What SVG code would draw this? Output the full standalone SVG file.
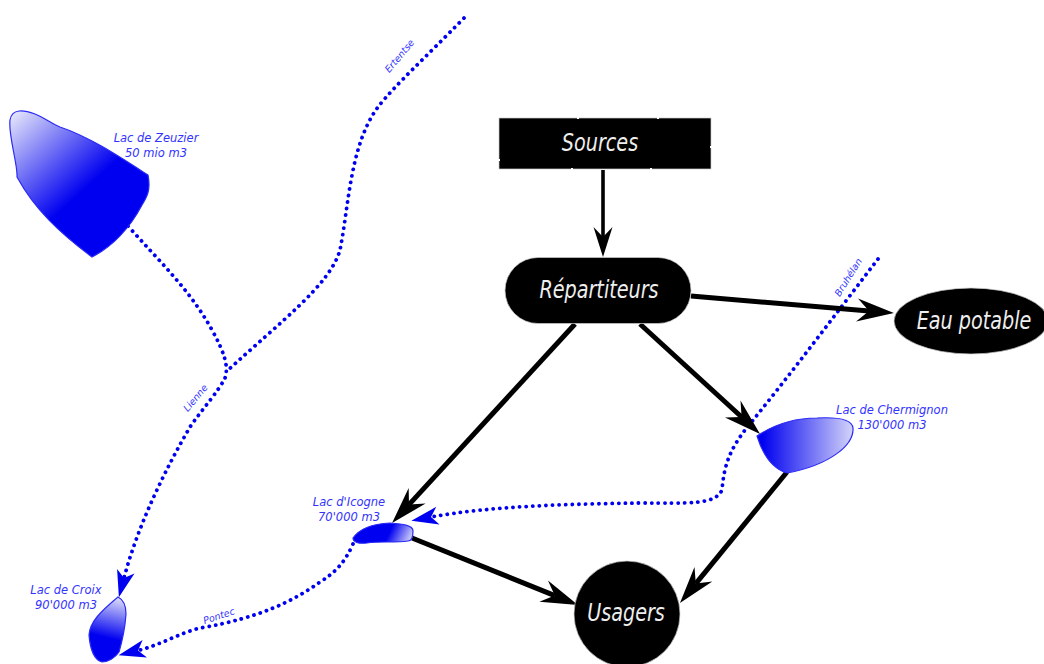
<svg xmlns="http://www.w3.org/2000/svg" width="1044" height="664" viewBox="0 0 1044 664">
<style>
.river{fill:none;stroke:#0000f0;stroke-width:3.8;stroke-linecap:round;stroke-dasharray:0.1 6.5}
.flow{fill:none;stroke:#000;stroke-width:5}
.thin{stroke-width:3.6}
.lake{stroke:#2a2af5;stroke-width:1.2}
.lbl{font-family:"DejaVu Sans",sans-serif;font-style:oblique;font-size:11.5px;fill:#3333ff;text-anchor:middle}
.big{font-family:"DejaVu Sans",sans-serif;font-style:oblique;font-size:24px;fill:#eee;text-anchor:middle}
.shape{fill:#000;stroke:#ccc;stroke-width:.7}
</style>
<defs>
<marker id="ab" markerUnits="userSpaceOnUse" markerWidth="42" markerHeight="26" viewBox="-13 -13 42 26" refX="0" refY="0" orient="auto"><path d="M25,0L-12,-11.500L0,0L-12,11.500z" fill="#000"/></marker>
<marker id="as" markerUnits="userSpaceOnUse" markerWidth="34" markerHeight="22" viewBox="-11 -11 34 22" refX="0" refY="0" orient="auto"><path d="M20,0L-10,-9.500L0,0L-10,9.500z" fill="#000"/></marker>
<marker id="ub" markerUnits="userSpaceOnUse" markerWidth="32" markerHeight="22" viewBox="-9 -11 32 22" refX="0" refY="0" orient="auto"><path d="M20,0L-7,-9L0,0L-7,9z" fill="#0000f0"/></marker>
<linearGradient id="gz" gradientUnits="userSpaceOnUse" x1="12" y1="115" x2="82" y2="192"><stop offset="0" stop-color="#e4e4fb"/><stop offset="1" stop-color="#0000f0"/></linearGradient>
<linearGradient id="gch" gradientUnits="userSpaceOnUse" x1="853" y1="440" x2="762" y2="440"><stop offset="0" stop-color="#d4d4fa"/><stop offset="1" stop-color="#0000f0"/></linearGradient>
<linearGradient id="gi" gradientUnits="userSpaceOnUse" x1="413" y1="537" x2="392" y2="527"><stop offset="0" stop-color="#d8d8fa"/><stop offset="1" stop-color="#0000f0"/></linearGradient>
<linearGradient id="gc" gradientUnits="userSpaceOnUse" x1="118" y1="597" x2="108" y2="638"><stop offset="0" stop-color="#e0e0fb"/><stop offset="1" stop-color="#0000f0"/></linearGradient>
</defs>
<g id="connectors">
<path class="river" d="M128,226C160,262 190,290 212,330C224,352 229,366 225,378C218,392 203,408 190,427C165,470 138,525 124,578" marker-end="url(#ub)"/>
<path class="river" d="M464,18C425,58 395,85 378,107C350,145 349,205 340,250C330,285 280,322 226,372"/>
<path class="river" d="M878,259C835,315 790,375 745,430C730,450 724,465 722,490C715,505 690,503 640,503C570,504 490,506 431,517" marker-end="url(#ub)"/>
<path class="river" d="M353,544C345,562 336,572 320,582C295,600 260,618 200,628C180,633 160,645 138,650.500" marker-end="url(#ub)"/>
<path class="flow thin" d="M603,170V237" marker-end="url(#as)"/>
<path class="flow" d="M691,296L869,311" marker-end="url(#ab)"/>
<path class="flow" d="M640,324L741.600,417" marker-end="url(#ab)"/>
<path class="flow" d="M575,324L409,504.600" marker-end="url(#ab)"/>
<path class="flow" d="M412,538L554.800,595.600" marker-end="url(#ab)"/>
<path class="flow" d="M787,472L695.800,583.600" marker-end="url(#ab)"/>
</g>
<g id="lac-zeuzier">
<path class="lake" fill="url(#gz)" d="M10,120C12,108 24,110 35,114C45,118 52,124 60,127C90,137 120,157 148,175C151,190 147,197 142,205C130,228 112,247 92,257C60,233 35,210 17,177C18,165 8,135 10,120z"/>
<text class="lbl" x="156" y="142">Lac de Zeuzier</text>
<text class="lbl" x="156" y="157">50 mio m3</text>
</g>
<g id="lac-chermignon">
<path class="lake" fill="url(#gch)" d="M757,436C775,424 795,418 817,418C835,417 852,419 853,428C854,445 830,465 787,473C770,468 762,452 757,436z"/>
<text class="lbl" x="892" y="414">Lac de Chermignon</text>
<text class="lbl" x="892" y="429">130'000 m3</text>
</g>
<g id="lac-icogne">
<path class="lake" fill="url(#gi)" d="M353,538C360,528 372,524 390,523C402,524 413,525 413,531C413,537 412,541 408,541C395,543 380,541 367,543C358,544 353,542 353,538z"/>
<text class="lbl" x="349" y="506">Lac d'Icogne</text>
<text class="lbl" x="349" y="521">70'000 m3</text>
</g>
<g id="lac-croix">
<path class="lake" fill="url(#gc)" d="M118,597C124,600 126,606 126,614C125,628 122,642 119,652C115,658 108,662 102,662C94,660 90,648 89,635C90,622 100,612 118,597z"/>
<text class="lbl" x="66" y="594">Lac de Croix</text>
<text class="lbl" x="66" y="609">90'000 m3</text>
</g>
<g id="sources">
<rect class="shape" x="499" y="118" width="212" height="51"/>
<path d="M578,117v2M658,117v2M572,168v2M651,168v2M710,147h2M498,160h2" stroke="#fff" stroke-width="2" fill="none"/>
<text class="big" transform="translate(600,151) scale(.8,1)">Sources</text>
</g>
<g id="repartiteurs">
<rect class="shape" x="505" y="257.500" width="186" height="66" rx="33" ry="33"/>
<text class="big" transform="translate(599,298) scale(.8,1)">Répartiteurs</text>
</g>
<g id="eau-potable">
<ellipse class="shape" cx="971" cy="321" rx="77" ry="33"/>
<text class="big" transform="translate(974,329) scale(.8,1)">Eau potable</text>
</g>
<g id="usagers">
<circle class="shape" cx="627" cy="614" r="53"/>
<text class="big" transform="translate(626,621) scale(.8,1)">Usagers</text>
</g>
<g id="river-labels">
<text class="lbl" style="font-size:9.500px" transform="translate(402,58) rotate(-50)">Ertentse</text>
<text class="lbl" style="font-size:9.500px" transform="translate(198,400) rotate(-50)">Lienne</text>
<text class="lbl" style="font-size:9.500px" transform="translate(851,279) rotate(-58)">Bruhélan</text>
<text class="lbl" style="font-size:9.500px" transform="translate(220,619) rotate(-18)">Pontec</text>
</g>
</svg>
